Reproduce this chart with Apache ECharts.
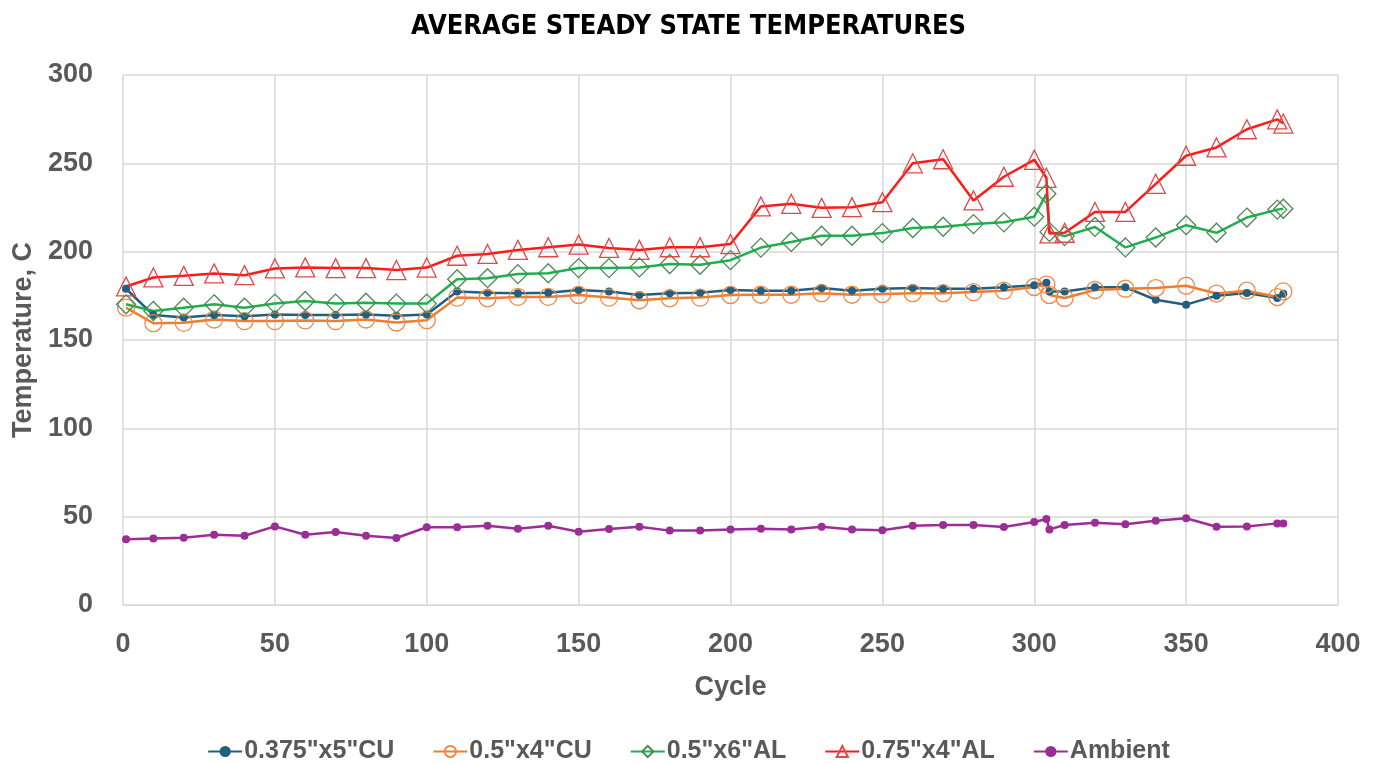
<!DOCTYPE html>
<html>
<head>
<meta charset="utf-8">
<script src="https://cdn.jsdelivr.net/npm/echarts@6/dist/echarts.min.js"></script>
<style>
  html, body { margin: 0; padding: 0; background: #fff; }
  #chart { width: 1377px; height: 763px; }
</style>
</head>
<body>
<div id="chart"></div>
<script>
// cycle numbers shared by all series
const cycles = [1, 10, 20, 30, 40, 50, 60, 70, 80, 90, 100, 110, 120, 130, 140, 150, 160, 170, 180, 190, 200,
  210, 220, 230, 240, 250, 260, 270, 280, 290, 300, 304, 305, 310, 320, 330, 340, 350, 360, 370, 380, 382];

const cu375x5 = [179, 164.1, 162.8, 164.1, 163.5, 164.5, 164.1, 164.1, 164.5, 163.7, 164.5, 177.4, 176.8, 176.4, 176.8, 178.3, 177.4, 175.5, 176.4, 176.8, 178.3,
  177.9, 177.9, 179.4, 177.9, 179, 179.4, 179, 179, 179.8, 181, 182.4, 177.5, 177.5, 179.8, 179.8, 172.8, 170, 175.1, 176.6, 173.8, 176.2];

const cu5x4 = [168.3, 159.5, 159.7, 161.6, 160.7, 160.7, 161.1, 160.7, 161.6, 159.9, 161.2, 174, 173.6, 174.4, 174.4, 175.5, 174, 172.5, 173.6, 174, 175.5,
  175.6, 175.6, 176.5, 175.6, 176, 176.5, 176.5, 177.1, 177.9, 180, 181.4, 175.5, 173.8, 178.3, 179, 179.4, 180.7, 176.3, 177.9, 174.3, 177.5];

const al5x6 = [170.2, 166.4, 168.3, 170.2, 168.3, 170.6, 172.1, 170.6, 171.1, 170.6, 170.6, 184.4, 185, 187.3, 187.8, 190.7, 190.7, 191.1, 193, 192.6, 195.2,
  202.3, 205.5, 209, 209, 210.5, 213.4, 214.1, 215.6, 216.6, 219.8, 232.8, 211.2, 208.8, 214, 202.4, 208, 215, 210.7, 219.3, 223.8, 224.3];

const al75x4 = [180.3, 185.4, 186.3, 187.7, 186.7, 190.5, 191.1, 190.7, 190.7, 189.6, 191, 197.7, 198.7, 201, 202.5, 204, 202.1, 201, 202.5, 202.5, 204.3,
  225.6, 227.1, 224.8, 225.2, 228, 250, 252.3, 229, 242.4, 252, 241.8, 210.3, 210.7, 222.5, 222.5, 238.4, 254.3, 259, 269.3, 274.9, 272.5];

const ambient = [37.2, 37.7, 38.1, 39.8, 39.2, 44.5, 39.8, 41.3, 39.2, 37.9, 44, 44, 44.9, 43.2, 44.9, 41.5, 43, 44.3, 42.1, 42.1, 42.8,
  43.2, 42.8, 44.3, 42.8, 42.3, 44.9, 45.3, 45.3, 44.2, 47, 48.7, 42.8, 45.3, 46.6, 45.7, 47.7, 49.1, 44.3, 44.5, 46.2, 46.2];

const pairs = vals => vals.map((v, i) => [cycles[i], v]);

const chart = echarts.init(document.getElementById('chart'));

const grey = '#595959';
const axisFont = { color: grey, fontSize: 27, fontWeight: 'bold', fontFamily: 'Liberation Sans' };
const nameFont = { color: grey, fontSize: 27, fontWeight: 'bold', fontFamily: 'Liberation Sans' };
const clear = 'rgba(255,255,255,0)';

const option = {
  animation: false,
  title: {
    text: 'AVERAGE STEADY STATE TEMPERATURES',
    left: 'center',
    top: 8,
    textStyle: { color: '#000', fontSize: 27, fontWeight: 'bold', fontFamily: 'DejaVu Sans Condensed' }
  },
  grid: { left: 123, right: 39, top: 75, bottom: 158 },
  legend: {
    top: 734,
    left: 'center',
    itemWidth: 34,
    itemHeight: 14,
    itemGap: 38,
    textStyle: { color: grey, fontSize: 25, fontWeight: 'bold', fontFamily: 'Liberation Sans', padding: [0, 0, 0, -3] },
    data: ['0.375"x5"CU', '0.5"x4"CU', '0.5"x6"AL', '0.75"x4"AL', 'Ambient']
  },
  xAxis: {
    type: 'value',
    min: 0, max: 400, interval: 50,
    name: 'Cycle',
    nameLocation: 'middle',
    nameGap: 69,
    nameTextStyle: nameFont,
    axisLine: { show: true, lineStyle: { color: '#d9d9d9' } },
    axisTick: { show: false },
    axisLabel: Object.assign({ margin: 26 }, axisFont),
    splitLine: { show: true, lineStyle: { color: '#d9d9d9', width: 1.5 } }
  },
  yAxis: {
    type: 'value',
    min: 0, max: 300, interval: 50,
    name: 'Temperature, C',
    nameLocation: 'middle',
    nameGap: 84,
    nameTextStyle: nameFont,
    axisLine: { show: false },
    axisTick: { show: false },
    axisLabel: Object.assign({ margin: 30 }, axisFont),
    splitLine: { show: true, lineStyle: { color: '#d9d9d9', width: 1.5 } }
  },
  series: [
    {
      name: '0.375"x5"CU', type: 'line', data: pairs(cu375x5),
      symbol: 'circle', symbolSize: 8,
      lineStyle: { color: '#215f80', width: 2.5 },
      itemStyle: { color: '#215f80' }
    },
    {
      name: '0.5"x4"CU', type: 'line', data: pairs(cu5x4),
      symbol: 'circle', symbolSize: 17,
      lineStyle: { color: '#ed7d31', width: 2.5 },
      itemStyle: { color: clear, borderColor: '#ee8a4a', borderWidth: 1.3 }
    },
    {
      name: '0.5"x6"AL', type: 'line', data: pairs(al5x6),
      symbol: 'diamond', symbolSize: 19,
      lineStyle: { color: '#1db04f', width: 2.5 },
      itemStyle: { color: clear, borderColor: '#4a8a52', borderWidth: 1.3 }
    },
    {
      name: '0.75"x4"AL', type: 'line', data: pairs(al75x4),
      symbol: 'triangle', symbolSize: 19,
      lineStyle: { color: '#ff1a1a', width: 2.5 },
      itemStyle: { color: clear, borderColor: '#e04848', borderWidth: 1.3 }
    },
    {
      name: 'Ambient', type: 'line', data: pairs(ambient),
      symbol: 'circle', symbolSize: 8,
      lineStyle: { color: '#9b2d96', width: 2.5 },
      itemStyle: { color: '#9b2d96' }
    }
  ]
};

chart.setOption(option);
</script>
</body>
</html>
